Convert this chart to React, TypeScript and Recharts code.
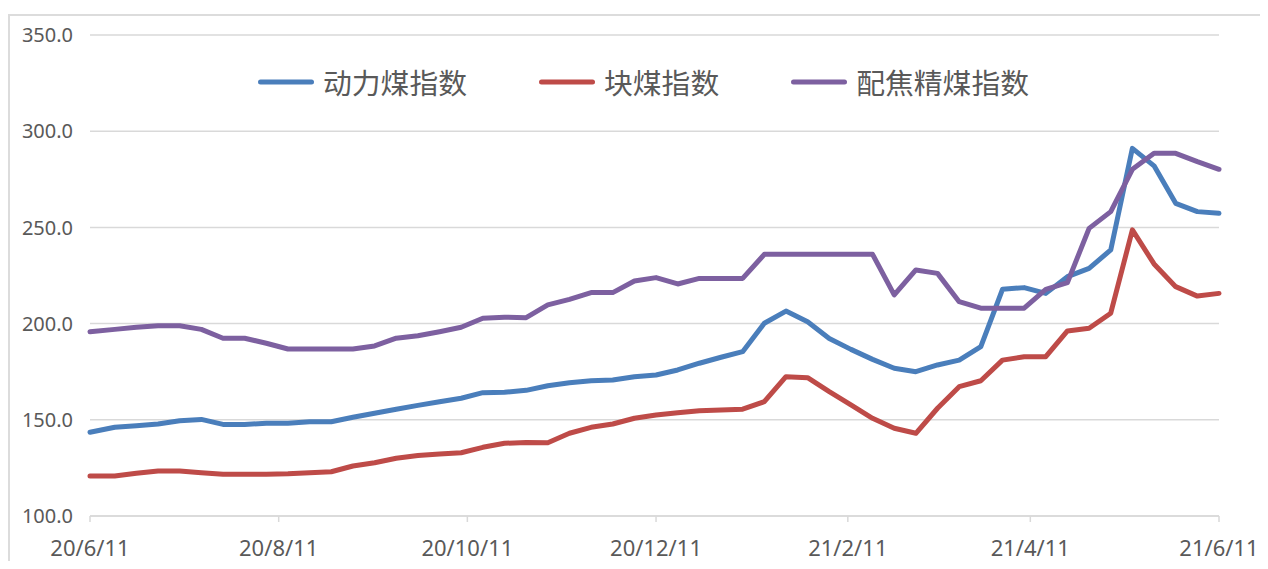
import React from 'react';
import { LineChart, Line, XAxis, YAxis, CartesianGrid, Legend } from 'recharts';

const dates = [
  '2020-06-11', '2020-06-19', '2020-06-26', '2020-07-03', '2020-07-10', '2020-07-17', '2020-07-24', '2020-07-31',
  '2020-08-07', '2020-08-14', '2020-08-21', '2020-08-28', '2020-09-04', '2020-09-11', '2020-09-18', '2020-09-25',
  '2020-10-02', '2020-10-09', '2020-10-16', '2020-10-23', '2020-10-30', '2020-11-06', '2020-11-13', '2020-11-20',
  '2020-11-27', '2020-12-04', '2020-12-11', '2020-12-18', '2020-12-25', '2021-01-01', '2021-01-08', '2021-01-15',
  '2021-01-22', '2021-01-29', '2021-02-05', '2021-02-12', '2021-02-19', '2021-02-26', '2021-03-05', '2021-03-12',
  '2021-03-19', '2021-03-26', '2021-04-02', '2021-04-09', '2021-04-16', '2021-04-23', '2021-04-30', '2021-05-07',
  '2021-05-14', '2021-05-21', '2021-05-28', '2021-06-04', '2021-06-11',
];

const thermalCoal = [
  143.5, 146.1, 146.9, 147.8, 149.5, 150.2, 147.6, 147.6, 148.2, 148.2,
  149.0, 149.0, 151.3, 153.4, 155.5, 157.5, 159.4, 161.2, 164.1, 164.3,
  165.3, 167.7, 169.3, 170.3, 170.7, 172.4, 173.3, 175.9, 179.4, 182.5,
  185.4, 200.2, 206.5, 201.0, 192.3, 186.6, 181.4, 176.8, 175.0, 178.5,
  181.0, 188.0, 217.8, 218.7, 215.7, 224.4, 228.7, 238.3, 291.1, 282.0,
  262.5, 258.2, 257.3,
];

const lumpCoal = [
  120.8, 120.8, 122.2, 123.4, 123.4, 122.5, 121.7, 121.7, 121.7, 121.9,
  122.5, 123.0, 126.0, 127.7, 130.0, 131.4, 132.2, 132.9, 135.7, 137.8,
  138.2, 138.1, 143.0, 146.1, 147.8, 150.8, 152.5, 153.7, 154.7, 155.1,
  155.5, 159.4, 172.4, 171.9, 164.6, 157.7, 150.8, 145.6, 143.0, 156.0,
  167.2, 170.3, 181.0, 182.8, 182.8, 196.2, 197.6, 205.4, 248.7, 231.0,
  219.2, 214.3, 215.7,
];

const cokingCoal = [
  195.8, 197.0, 198.1, 198.9, 198.9, 197.0, 192.4, 192.4, 189.8, 186.8,
  186.8, 186.8, 186.8, 188.4, 192.4, 193.7, 195.8, 198.1, 202.8, 203.3,
  203.1, 209.7, 212.6, 216.1, 216.1, 222.1, 223.9, 220.6, 223.5, 223.5,
  223.5, 236.0, 236.0, 236.0, 236.0, 236.0, 236.0, 214.9, 227.9, 226.1,
  211.4, 208.0, 208.0, 208.0, 217.8, 221.3, 249.5, 258.2, 280.2, 288.5,
  288.5, 284.2, 280.2,
];

const seriesKeys = ['thermal', 'lump', 'coking'];
const seriesNames = ['动力煤指数', '块煤指数', '配焦精煤指数'];
const seriesColors = ['#4A7EBB', '#BE4B48', '#7D60A0'];
const xTickDates = ['2020-06-11', '2020-08-11', '2020-10-11', '2020-12-11', '2021-02-11', '2021-04-11', '2021-06-11'];
const yTicks = [100, 150, 200, 250, 300, 350];

const toTs = (s: string) => {
  const [y, m, d] = s.split('-').map(Number);
  return Date.UTC(y, m - 1, d);
};

const data = dates.map((d, i) => ({
  t: toTs(d),
  thermal: thermalCoal[i],
  lump: lumpCoal[i],
  coking: cokingCoal[i],
}));

const xTicks = xTickDates.map(toTs);

const fmtDate = (v: number) => {
  const dt = new Date(v);
  return `${String(dt.getUTCFullYear()).slice(2)}/${dt.getUTCMonth() + 1}/${dt.getUTCDate()}`;
};

const renderLegend = () => (
  <div
    style={{
      display: 'flex',
      alignItems: 'center',
      fontFamily: '"Noto Sans CJK SC", sans-serif',
      fontSize: 28.8,
      color: '#595959',
      whiteSpace: 'nowrap',
      lineHeight: 1,
    }}
  >
    {seriesNames.map((n, i) => (
      <div key={n} style={{ display: 'flex', alignItems: 'center', marginRight: i < seriesNames.length - 1 ? 72 : 0 }}>
        <svg width={56} height={8} style={{ display: 'block' }}>
          <line x1={2.5} y1={4} x2={53.5} y2={4} stroke={seriesColors[i]} strokeWidth={5} strokeLinecap="round" />
        </svg>
        <span style={{ marginLeft: 9 }}>{n}</span>
      </div>
    ))}
  </div>
);

export default function App() {
  return (
    <div style={{ position: 'relative', width: 1260, height: 553 }}>
      <div
        style={{
          position: 'absolute',
          left: 0,
          top: 6,
          width: 1260,
          height: 547,
          borderTop: '2px solid #dcdcdc',
          borderLeft: '2px solid #dcdcdc',
          boxSizing: 'border-box',
        }}
      />
      <div style={{ position: 'absolute', left: 0, top: 0 }}>
        <LineChart width={1260} height={553} data={data} margin={{ top: 27, right: 49, left: 0, bottom: 5 }}>
          <CartesianGrid horizontal vertical={false} stroke="#d9d9d9" strokeWidth={1.5} />
          <XAxis
            dataKey="t"
            type="number"
            scale="time"
            domain={[xTicks[0], xTicks[xTicks.length - 1]]}
            ticks={xTicks}
            tickFormatter={fmtDate}
            height={40}
            axisLine={{ stroke: '#d9d9d9', strokeWidth: 1.5 }}
            tickLine={{ stroke: '#d9d9d9', strokeWidth: 1.5 }}
            tickSize={6}
            tickMargin={18}
            interval={0}
            tick={{ fill: '#595959', fontSize: 22, fontFamily: '"Noto Sans", sans-serif' }}
          />
          <YAxis
            type="number"
            domain={[100, 350]}
            ticks={yTicks}
            tickFormatter={(v: number) => v.toFixed(1)}
            width={82}
            axisLine={false}
            tickLine={false}
            tickSize={6}
            tickMargin={11}
            interval={0}
            tick={{ fill: '#595959', fontSize: 20, fontFamily: '"Noto Sans", sans-serif' }}
          />
          <Legend
            layout="horizontal"
            verticalAlign="middle"
            align="center"
            content={renderLegend}
            wrapperStyle={{ left: 250, top: 60, width: 'auto', height: 'auto' }}
          />
          {seriesKeys.map((k, i) => (
            <Line
              key={k}
              type="linear"
              dataKey={k}
              name={seriesNames[i]}
              stroke={seriesColors[i]}
              strokeWidth={5}
              strokeLinejoin="round"
              strokeLinecap="round"
              dot={false}
              activeDot={false}
              isAnimationActive={false}
            />
          ))}
        </LineChart>
      </div>
    </div>
  );
}
